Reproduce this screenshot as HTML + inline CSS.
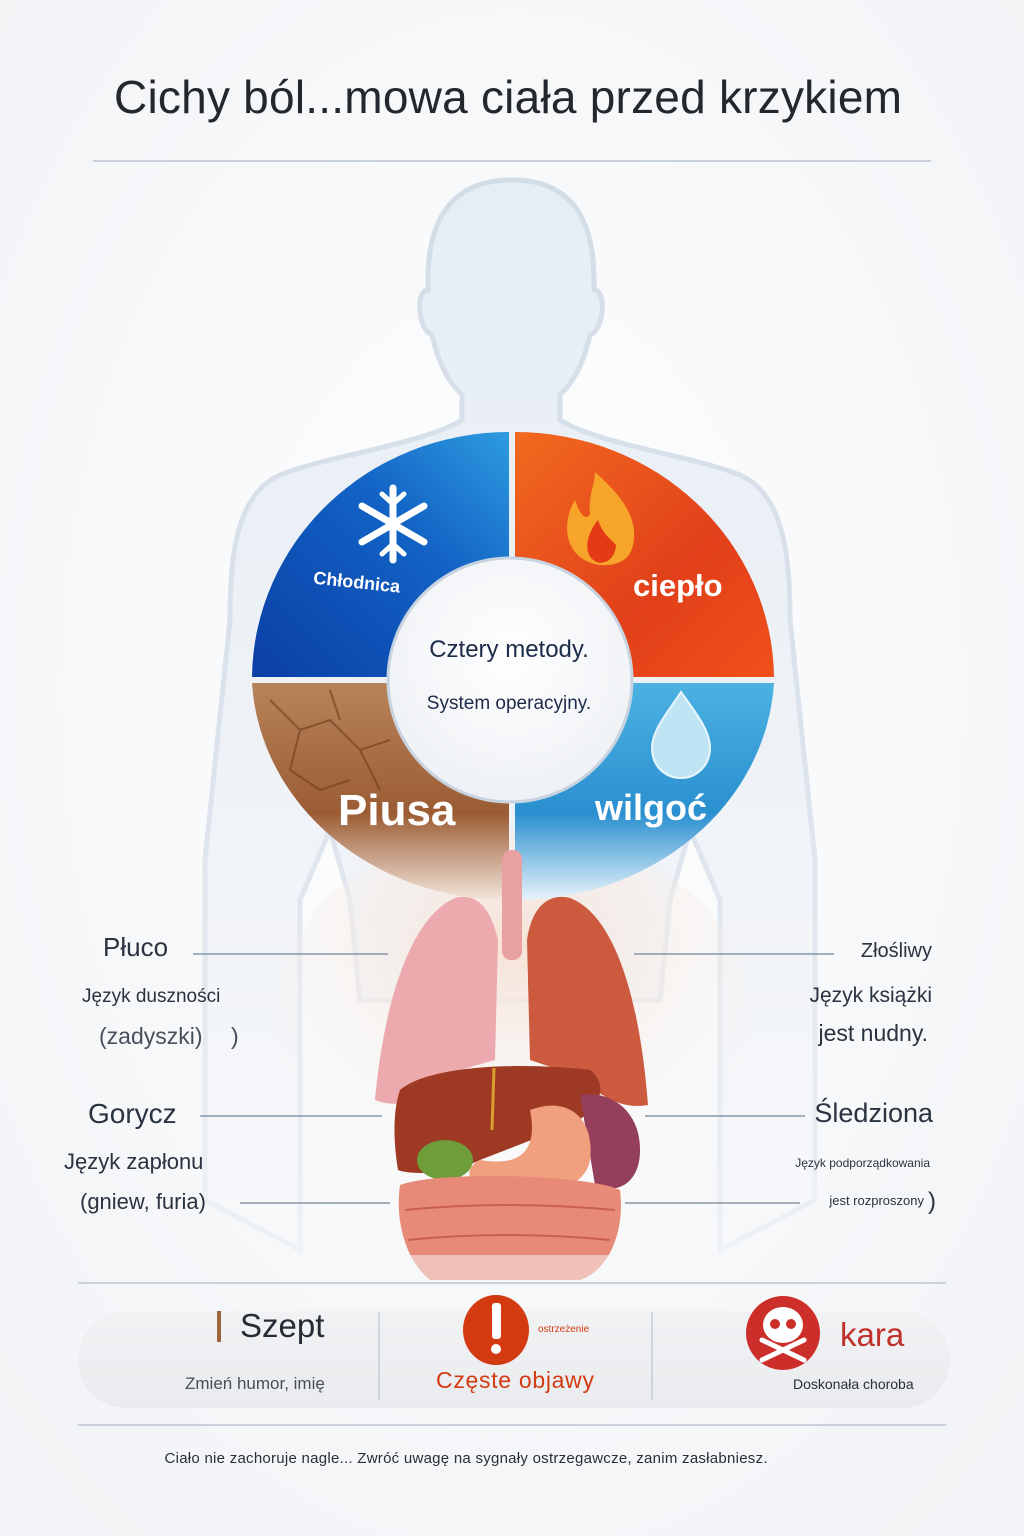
<!DOCTYPE html>
<html><head><meta charset="utf-8"><style>
html,body{margin:0;padding:0;background:#f7f8fa;}
svg{display:block}
text{font-family:"Liberation Sans",sans-serif}
</style></head><body>
<svg width="1024" height="1536" viewBox="0 0 1024 1536" xmlns="http://www.w3.org/2000/svg">
<defs>
<radialGradient id="bg" cx="50%" cy="45%" r="70%"><stop offset="0" stop-color="#ffffff"/><stop offset="1" stop-color="#f1f3f6"/></radialGradient>
<linearGradient id="body" x1="0" y1="0" x2="0" y2="1"><stop offset="0" stop-color="#e6edf5"/><stop offset="0.5" stop-color="#eef2f7"/><stop offset="1" stop-color="#f7f8fa"/></linearGradient>
<linearGradient id="bodyS" x1="0" y1="0" x2="0" y2="1"><stop offset="0" stop-color="#d3dde8"/><stop offset="0.55" stop-color="#dbe3ec"/><stop offset="1" stop-color="#eef1f5"/></linearGradient>
<linearGradient id="blue" x1="0" y1="1" x2="1" y2="0"><stop offset="0" stop-color="#0b3fa6"/><stop offset="0.6" stop-color="#1262c4"/><stop offset="1" stop-color="#2d9be0"/></linearGradient>
<linearGradient id="red" x1="0" y1="0" x2="1" y2="1"><stop offset="0" stop-color="#f26a1f"/><stop offset="0.6" stop-color="#e1401a"/><stop offset="1" stop-color="#f0501a"/></linearGradient>
<linearGradient id="brown" x1="0" y1="0" x2="0" y2="1"><stop offset="0" stop-color="#b8835a"/><stop offset="0.6" stop-color="#9b5c34"/><stop offset="1" stop-color="#f3e5da"/></linearGradient>
<linearGradient id="lblue" x1="0" y1="0" x2="0" y2="1"><stop offset="0" stop-color="#4cb2e2"/><stop offset="0.6" stop-color="#2a8fcf"/><stop offset="1" stop-color="#e8f3fa"/></linearGradient>
<radialGradient id="inner" cx="50%" cy="40%" r="60%"><stop offset="0" stop-color="#ffffff"/><stop offset="1" stop-color="#eef1f5"/></radialGradient>
<radialGradient id="torso" cx="50%" cy="30%" r="60%"><stop offset="0" stop-color="#f7e3d6"/><stop offset="1" stop-color="#f5f2f1" stop-opacity="0"/></radialGradient>
<linearGradient id="pill" x1="0" y1="0" x2="0" y2="1"><stop offset="0" stop-color="#f1f2f4"/><stop offset="1" stop-color="#e9ebee"/></linearGradient>
</defs>
<rect width="1024" height="1536" fill="url(#bg)"/>
<text x="508" y="113" font-size="46" text-anchor="middle" fill="#23272e" textLength="788">Cichy ból...mowa ciała przed krzykiem</text>
<line x1="93" y1="161" x2="931" y2="161" stroke="#c9d2dc" stroke-width="2"/>
<!-- body silhouette -->
<path d="M512 180 C455 180 428 215 428 280 L428 290 C415 290 418 330 432 335 C440 370 452 385 462 395 L462 420 C420 445 330 455 280 475 C235 495 230 560 230 620 L205 860 L205 1200 L300 1250 L300 900 L330 830 L350 900 L360 1000 L660 1000 L670 900 L690 830 L720 900 L720 1250 L815 1200 L815 860 L790 620 C790 560 785 495 740 475 C690 455 600 445 560 420 L560 395 C570 385 582 370 590 335 C604 330 607 290 594 290 L594 280 C594 215 568 180 512 180 Z" fill="url(#body)" stroke="url(#bodyS)" stroke-width="5"/>
<ellipse cx="512" cy="1020" rx="240" ry="190" fill="url(#torso)"/>
<!-- quadrants -->
<g>
<path d="M509 677 L252 677 A257 248 0 0 1 509 432 Z" fill="url(#blue)"/>
<path d="M515 677 L515 432 A259 248 0 0 1 774 677 Z" fill="url(#red)"/>
<path d="M509 683 L252 683 A257 230 0 0 0 509 900 Z" fill="url(#brown)"/>
<path d="M515 683 L774 683 A259 230 0 0 1 515 900 Z" fill="url(#lblue)"/>
</g>
<g stroke="#6e3a1c" stroke-width="2" fill="none" opacity="0.6">
<path d="M270 700 L300 730 L330 720 L360 750 L390 740"/><path d="M300 730 L290 770 L320 790 L350 780"/><path d="M330 690 L340 720"/><path d="M360 750 L380 790"/>
</g>
<!-- snowflake -->
<g stroke="#fff" stroke-width="7" stroke-linecap="round" fill="none">
<line x1="393" y1="488" x2="393" y2="560"/><line x1="362" y1="506" x2="424" y2="542"/><line x1="362" y1="542" x2="424" y2="506"/>
<path d="M382 494 L393 504 L404 494 M382 554 L393 544 L404 554" stroke-width="5"/>
</g>
<text x="313" y="588" font-size="18" font-weight="bold" fill="#fff" transform="rotate(6 355 585)">Chłodnica</text>
<!-- flame -->
<path d="M600 565 C565 560 560 525 575 500 C580 515 585 520 590 515 C588 495 595 485 595 472 C615 490 640 515 633 545 C630 560 618 566 600 565 Z" fill="#f7a52a"/>
<path d="M600 563 C585 560 582 540 598 520 C603 535 612 540 616 545 C615 556 610 562 600 563 Z" fill="#e23b16"/>
<text x="633" y="596" font-size="31" font-weight="bold" fill="#fff">ciepło</text>
<!-- drop -->
<path d="M681 692 C695 712 710 730 710 748 C710 766 696 778 681 778 C665 778 652 766 652 748 C652 730 668 712 681 692 Z" fill="#bfe5f5" stroke="#e8f6fc" stroke-width="2"/>
<text x="595" y="820" font-size="36" font-weight="bold" fill="#fff">wilgoć</text>
<text x="338" y="825" font-size="44" font-weight="bold" fill="#fff">Piusa</text>
<!-- inner circle -->
<circle cx="510" cy="680" r="122" fill="url(#inner)" stroke="#c7d3e0" stroke-width="3"/>
<text x="509" y="657" font-size="24" text-anchor="middle" fill="#1d2b4a">Cztery metody.</text>
<text x="509" y="709" font-size="19" text-anchor="middle" fill="#1d2b4a">System operacyjny.</text>
<!-- organs -->
<rect x="502" y="850" width="20" height="110" rx="9" fill="#e9a0a0"/>
<path d="M498 940 C490 905 475 893 455 898 C415 915 385 990 375 1100 C400 1110 430 1100 460 1070 L495 1060 Z" fill="#ecaaae"/>
<path d="M527 940 C532 905 550 893 570 898 C615 915 640 1000 648 1105 C620 1110 600 1095 575 1075 L530 1060 Z" fill="#cc5a3e"/>
<path d="M400 1090 C430 1065 520 1062 590 1070 C610 1085 600 1110 570 1125 L480 1160 C450 1175 410 1175 398 1170 C393 1140 393 1110 400 1090 Z" fill="#9e3a24"/>
<line x1="494" y1="1068" x2="492" y2="1130" stroke="#d9a030" stroke-width="3"/>
<path d="M580 1095 C610 1090 640 1110 640 1150 C640 1185 615 1195 595 1185 Z" fill="#94405a"/>
<path d="M530 1110 C570 1095 595 1120 590 1160 C585 1190 540 1200 495 1195 C470 1190 460 1170 480 1160 C510 1165 540 1160 530 1110 Z" fill="#f0a07e"/>
<ellipse cx="445" cy="1160" rx="28" ry="20" fill="#6e9d3a"/>
<path d="M400 1185 C440 1170 590 1175 620 1190 C625 1230 610 1270 580 1280 L430 1280 C405 1260 395 1220 400 1185 Z" fill="#e88a78"/>
<g stroke="#c8604f" stroke-width="2" fill="none"><path d="M405 1210 Q505 1200 615 1210"/><path d="M408 1240 Q505 1230 610 1240"/></g>
<rect x="380" y="1255" width="260" height="30" fill="#f7f8fa" opacity="0.5"/>
<!-- labels -->
<g stroke="#8697a8" stroke-width="1.5">
<line x1="193" y1="954" x2="388" y2="954"/><line x1="634" y1="954" x2="834" y2="954"/>
<line x1="200" y1="1116" x2="382" y2="1116"/><line x1="645" y1="1116" x2="805" y2="1116"/>
<line x1="240" y1="1203" x2="390" y2="1203"/><line x1="625" y1="1203" x2="800" y2="1203"/>
</g>
<g fill="#2a3340">
<text x="103" y="956" font-size="26">Płuco</text>
<text x="82" y="1002" font-size="19">Język duszności</text>
<text x="99" y="1044" font-size="23" fill="#46505c">(zadyszki)</text>
<text x="231" y="1044" font-size="23" fill="#46505c">)</text>
<text x="88" y="1123" font-size="28">Gorycz</text>
<text x="64" y="1169" font-size="22">Język zapłonu</text>
<text x="80" y="1209" font-size="22">(gniew, furia)</text>
<text x="932" y="957" font-size="20" text-anchor="end">Złośliwy</text>
<text x="932" y="1002" font-size="21" text-anchor="end">Język książki</text>
<text x="928" y="1041" font-size="23" text-anchor="end">jest nudny.</text>
<text x="933" y="1122" font-size="27" text-anchor="end">Śledziona</text>
<text x="930" y="1167" font-size="12" text-anchor="end">Język podporządkowania</text>
<text x="924" y="1205" font-size="13" text-anchor="end">jest rozproszony</text>
<text x="936" y="1209" font-size="24" text-anchor="end">)</text>
</g>
<!-- bottom -->
<line x1="78" y1="1283" x2="946" y2="1283" stroke="#c9d2dc" stroke-width="2"/>
<rect x="78" y="1311" width="872" height="97" rx="48" fill="url(#pill)"/>
<line x1="379" y1="1312" x2="379" y2="1400" stroke="#c3ccd6" stroke-width="1.5"/>
<line x1="652" y1="1312" x2="652" y2="1400" stroke="#c3ccd6" stroke-width="1.5"/>
<rect x="217" y="1311" width="4" height="31" fill="#a0643a"/>
<text x="240" y="1337" font-size="33" fill="#262c35">Szept</text>
<text x="185" y="1389" font-size="17" fill="#4a4f57">Zmień humor, imię</text>
<ellipse cx="496" cy="1330" rx="33" ry="35" fill="#d33a10"/>
<rect x="492" y="1303" width="9" height="36" rx="3" fill="#fff"/><circle cx="496" cy="1349" r="5" fill="#fff"/>
<text x="538" y="1332" font-size="10" fill="#d33a10">ostrzeżenie</text>
<text x="436" y="1388" font-size="23" fill="#d33a10" textLength="158">Częste objawy</text>
<circle cx="783" cy="1333" r="37" fill="#cc2f2a"/>
<ellipse cx="783" cy="1325" rx="20" ry="18" fill="#fff"/><circle cx="775" cy="1324" r="5" fill="#cc2f2a"/><circle cx="791" cy="1324" r="5" fill="#cc2f2a"/>
<g stroke="#fff" stroke-width="5" stroke-linecap="round"><line x1="762" y1="1340" x2="804" y2="1360"/><line x1="804" y1="1340" x2="762" y2="1360"/></g>
<text x="840" y="1346" font-size="33" fill="#c0302a">kara</text>
<text x="793" y="1389" font-size="14" fill="#2a2f36">Doskonała choroba</text>
<line x1="78" y1="1425" x2="946" y2="1425" stroke="#c9d2dc" stroke-width="2"/>
<text x="466" y="1463" font-size="15" text-anchor="middle" fill="#2a2f36" textLength="603">Ciało nie zachoruje nagle... Zwróć uwagę na sygnały ostrzegawcze, zanim zasłabniesz.</text>
</svg>
</body></html>
